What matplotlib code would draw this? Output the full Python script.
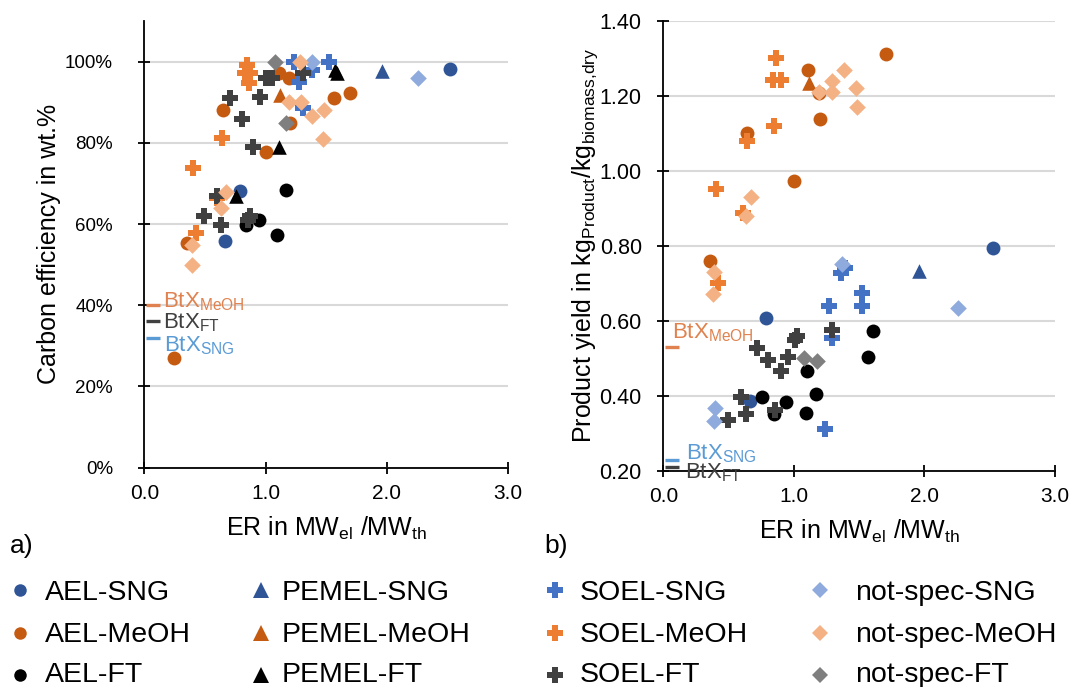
import matplotlib
matplotlib.use('Agg')
import matplotlib.pyplot as plt
from matplotlib.lines import Line2D
from matplotlib.ticker import PercentFormatter, FormatStrFormatter, MultipleLocator

plt.rcParams['font.family'] = ['Liberation Sans', 'DejaVu Sans']
plt.rcParams['mathtext.fontset'] = 'custom'
plt.rcParams['mathtext.rm'] = 'Liberation Sans'
plt.rcParams['mathtext.it'] = 'Liberation Sans:italic'
plt.rcParams['mathtext.bf'] = 'Liberation Sans:bold'

# ---------------- data: panel a) carbon efficiency (%) vs ER ----------------
ael_sng_er_a = [2.52, 0.79, 0.666]
ael_sng_ce = [98.1, 68.2, 55.8]
ael_meoh_er_a = [1.112, 1.197, 0.647, 1.561, 1.699, 1.203, 1.002, 0.355, 0.248]
ael_meoh_ce = [97.1, 96.0, 88.1, 91.0, 92.3, 84.8, 77.8, 55.2, 26.9]
ael_ft_er_a = [1.168, 0.95, 0.84, 1.093]
ael_ft_ce = [68.4, 61.1, 59.8, 57.3]
pemel_sng_er_a = [1.96]
pemel_sng_ce = [97.7]
pemel_meoh_er_a = [1.12]
pemel_meoh_ce = [91.8]
pemel_ft_er_a = [1.589, 1.575, 1.107, 0.757]
pemel_ft_ce = [97.1, 97.9, 78.9, 66.9]
soel_sng_er_a = [1.236, 1.525, 1.382, 1.272, 1.305]
soel_sng_ce = [100.0, 100.0, 97.9, 95.0, 88.6]
soel_meoh_er_a = [0.851, 0.833, 0.873, 0.865, 0.639, 0.405, 0.60, 0.424]
soel_meoh_ce = [99.2, 97.2, 97.2, 94.7, 81.3, 73.7, 66.4, 57.7]
soel_ft_er_a = [1.00, 1.05, 1.305, 0.708, 0.955, 0.804, 0.90, 0.603, 0.493, 0.631, 0.873, 0.856]
soel_ft_ce = [95.9, 95.9, 97.1, 91.0, 91.2, 85.9, 79.0, 66.9, 61.9, 59.7, 61.9, 61.0]
ns_sng_er_a = [1.382, 2.258]
ns_sng_ce = [100.0, 96.0]
ns_meoh_er_a = [1.286, 1.195, 1.291, 1.387, 1.486, 1.473, 0.675, 0.633, 0.391, 0.391]
ns_meoh_ce = [100.0, 90.0, 90.0, 86.6, 88.1, 80.9, 68.0, 63.9, 54.8, 49.9]
ns_ft_er_a = [1.079, 1.17]
ns_ft_ce = [100.0, 85.0]

# ---------------- data: panel b) product yield vs ER ----------------
ael_sng_er_b = [2.522, 0.784, 0.664]
ael_sng_y = [0.793, 0.608, 0.387]
ael_meoh_er_b = [1.106, 1.19, 1.703, 1.20, 0.643, 1.001, 0.358]
ael_meoh_y = [1.269, 1.207, 1.310, 1.138, 1.100, 0.973, 0.760]
ael_ft_er_b = [1.603, 1.57, 1.098, 1.167, 0.753, 0.94, 0.848, 1.09]
ael_ft_y = [0.573, 0.502, 0.466, 0.404, 0.397, 0.384, 0.351, 0.355]
pemel_sng_er_b = [1.96]
pemel_sng_y = [0.733]
pemel_meoh_er_b = [1.116]
pemel_meoh_y = [1.235]
soel_sng_er_b = [1.358, 1.39, 1.524, 1.519, 1.269, 1.294, 1.238]
soel_sng_y = [0.726, 0.740, 0.673, 0.640, 0.639, 0.553, 0.310]
soel_meoh_er_b = [0.863, 0.842, 0.899, 0.85, 0.639, 0.404, 0.608, 0.421]
soel_meoh_y = [1.300, 1.242, 1.242, 1.119, 1.079, 0.950, 0.888, 0.700]
soel_ft_er_b = [1.294, 1.026, 1.008, 0.715, 0.80, 0.953, 0.901, 0.595, 0.855, 0.631, 0.493]
soel_ft_y = [0.575, 0.559, 0.549, 0.526, 0.495, 0.504, 0.466, 0.396, 0.362, 0.350, 0.335]
ns_sng_er_b = [1.371, 2.259, 0.396, 0.39]
ns_sng_y = [0.751, 0.635, 0.368, 0.333]
ns_meoh_er_b = [1.192, 1.294, 1.386, 1.294, 1.473, 1.485, 0.672, 0.633, 0.388, 0.383]
ns_meoh_y = [1.209, 1.240, 1.269, 1.209, 1.220, 1.169, 0.931, 0.879, 0.729, 0.670]
ns_ft_er_b = [1.08, 1.175]
ns_ft_y = [0.501, 0.493]

# BtX reference values
btx_names = ['MeOH', 'FT', 'SNG']
btx_ce = [40.0, 36.0, 31.8]
btx_yield = [0.531, 0.209, 0.229]

series_labels = ['AEL-SNG', 'AEL-MeOH', 'AEL-FT',
                 'PEMEL-SNG', 'PEMEL-MeOH', 'PEMEL-FT',
                 'SOEL-SNG', 'SOEL-MeOH', 'SOEL-FT',
                 'not-spec-SNG', 'not-spec-MeOH', 'not-spec-FT']

# ---------------- styles ----------------
colors = ['#2F5597', '#C55A11', '#000000',
          '#2F5597', '#C55A11', '#000000',
          '#4472C4', '#ED7D31', '#404040',
          '#8FAADC', '#F4B183', '#7F7F7F']
markers = ['o', 'o', 'o', '^', '^', '^', 'P', 'P', 'P', 'D', 'D', 'D']
sizes = {'o': 100, '^': 110, 'P': 135, 'D': 72}
leg_sizes = {'o': 9, '^': 11, 'P': 11, 'D': 8}
btx_colors = {'MeOH': '#E0824F', 'FT': '#404040', 'SNG': '#5B9BD5'}

panel_a = [(ael_sng_er_a, ael_sng_ce), (ael_meoh_er_a, ael_meoh_ce), (ael_ft_er_a, ael_ft_ce),
           (pemel_sng_er_a, pemel_sng_ce), (pemel_meoh_er_a, pemel_meoh_ce), (pemel_ft_er_a, pemel_ft_ce),
           (soel_sng_er_a, soel_sng_ce), (soel_meoh_er_a, soel_meoh_ce), (soel_ft_er_a, soel_ft_ce),
           (ns_sng_er_a, ns_sng_ce), (ns_meoh_er_a, ns_meoh_ce), (ns_ft_er_a, ns_ft_ce)]
panel_b = [(ael_sng_er_b, ael_sng_y), (ael_meoh_er_b, ael_meoh_y), (ael_ft_er_b, ael_ft_y),
           (pemel_sng_er_b, pemel_sng_y), (pemel_meoh_er_b, pemel_meoh_y), ([], []),
           (soel_sng_er_b, soel_sng_y), (soel_meoh_er_b, soel_meoh_y), (soel_ft_er_b, soel_ft_y),
           (ns_sng_er_b, ns_sng_y), (ns_meoh_er_b, ns_meoh_y), (ns_ft_er_b, ns_ft_y)]

W, H = 1072, 687
fig = plt.figure(figsize=(W / 100, H / 100), dpi=100)

ax1 = fig.add_axes([144.3 / W, 1 - 467.6 / H, (508 - 144.3) / W, (467.6 - 21) / H])
ax2 = fig.add_axes([663.3 / W, 1 - 470.7 / H, (1055 - 663.3) / W, (470.7 - 20.7) / H])

for ax in (ax1, ax2):
    for s in ('top', 'right'):
        ax.spines[s].set_visible(False)
    for s in ('left', 'bottom'):
        ax.spines[s].set_linewidth(1.3)
        ax.spines[s].set_color('#000000')
    ax.tick_params(direction='inout', length=9, width=1.3, colors='#000000')
    ax.tick_params(axis='x', labelsize=15, pad=7.5)
    ax.grid(axis='y', color='#D9D9D9', linewidth=1.5, zorder=0)
    ax.set_axisbelow(True)
    ax.set_xlim(0, 3.0)
    ax.xaxis.set_major_locator(MultipleLocator(1.0))
    ax.xaxis.set_major_formatter(FormatStrFormatter('%.1f'))

ax1.tick_params(axis='y', labelsize=13.5, pad=18)
ax2.tick_params(axis='y', labelsize=15.5, pad=11)

for (xs, ys), c, m in zip(panel_a, colors, markers):
    if xs:
        ax1.scatter(xs, ys, s=sizes[m], marker=m, c=c, linewidths=0, zorder=3, clip_on=False)
for (xs, ys), c, m in zip(panel_b, colors, markers):
    if xs:
        ax2.scatter(xs, ys, s=sizes[m], marker=m, c=c, linewidths=0, zorder=3, clip_on=False)

ax1.set_ylim(0, 110)
ax1.set_yticks([0, 20, 40, 60, 80, 100])
ax1.yaxis.set_major_formatter(PercentFormatter(100, decimals=0))
ax2.set_ylim(0.20, 1.40)
ax2.yaxis.set_major_locator(MultipleLocator(0.2))
ax2.yaxis.set_major_formatter(FormatStrFormatter('%.2f'))

# BtX markers
btx_text_a = {'MeOH': (0.154, 39.4), 'FT': (0.154, 34.3), 'SNG': (0.16, 28.5)}
btx_text_b = {'MeOH': (0.064, 0.553), 'FT': (0.168, 0.179), 'SNG': (0.174, 0.229)}
for name, v, yv in zip(btx_names, btx_ce, btx_yield):
    col = btx_colors[name]
    ax1.plot([0.01, 0.13], [v, v], color=col, lw=2.4, solid_capstyle='butt', zorder=4, clip_on=False)
    ax2.plot([0.01, 0.12], [yv, yv], color=col, lw=2.4, solid_capstyle='butt', zorder=4, clip_on=False)
    tx, ty = btx_text_a[name]
    ax1.text(tx, ty, r'BtX$_{\mathrm{%s}}$' % name, color=col, fontsize=16, va='baseline', ha='left', zorder=5)
    tx, ty = btx_text_b[name]
    ax2.text(tx, ty, r'BtX$_{\mathrm{%s}}$' % name, color=col, fontsize=16, va='baseline', ha='left',
             zorder=5, clip_on=False)

xlab = r'ER in MW$_{\mathrm{el}}$ /MW$_{\mathrm{th}}$'
ax1.set_xlabel(xlab, fontsize=18, labelpad=8)
ax2.set_xlabel(xlab, fontsize=18, labelpad=8)
ax1.set_ylabel('Carbon efficiency in wt.%', fontsize=18)
ax2.set_ylabel(r'Product yield in kg$_{\mathrm{Product}}$/kg$_{\mathrm{biomass{,}dry}}$', fontsize=18)
ax1.yaxis.set_label_coords(-0.229, 0.5)
ax2.yaxis.set_label_coords(-0.162, 0.5)

fig.text(10 / W, 1 - 553 / H, 'a)', fontsize=19, ha='left', va='baseline')
fig.text(544 / W, 1 - 553 / H, 'b)', fontsize=19, ha='left', va='baseline')

# legend (manual grid, 4 columns x 3 rows)
marker_x = [20, 261, 555, 820]
text_x = [45, 282, 580, 855]
marker_y = [590, 633, 675]
text_base = [600, 641.5, 682]
for i, (lab, c, m) in enumerate(zip(series_labels, colors, markers)):
    col, row = divmod(i, 3)
    fig.add_artist(Line2D([marker_x[col] / W], [1 - marker_y[row] / H], transform=fig.transFigure,
                          marker=m, markersize=leg_sizes[m], color=c, markeredgewidth=0, linestyle='none'))
    fig.text(text_x[col] / W, 1 - text_base[row] / H, lab, fontsize=20.5, ha='left', va='baseline')

fig.savefig('out.png', dpi=100)
